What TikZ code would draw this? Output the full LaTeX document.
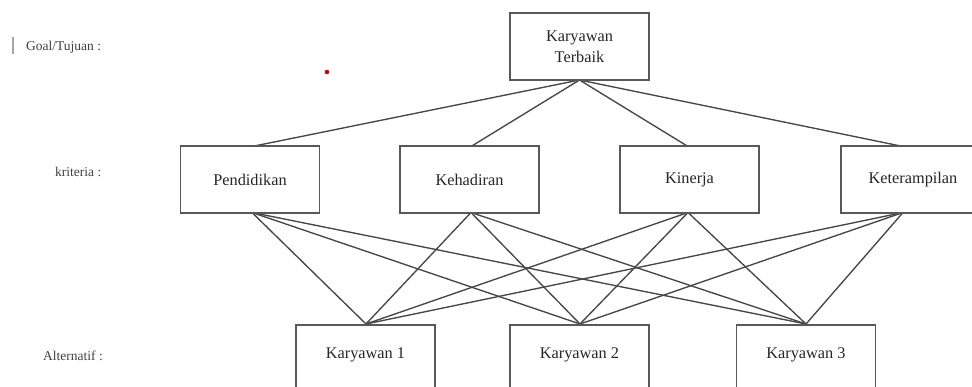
\documentclass[tikz,border=0pt]{standalone}
\usepackage{fontspec}
\setmainfont{Liberation Serif}
\begin{document}
\begin{tikzpicture}[x=1pt,y=-1pt,
  box/.style={draw=black!65, line width=1.6pt, fill=white, minimum width=139pt, minimum height=67pt, inner sep=0pt, font=\fontsize{16.3}{21}\selectfont, text=black!85, align=center},
  altbox/.style={draw=black!65, line width=1.6pt, fill=white, minimum width=139pt, anchor=north, inner xsep=0pt, inner ysep=0pt, text height=34pt, text depth=46pt, font=\fontsize{16.3}{21}\selectfont, text=black!85},
  lvl/.style={font=\fontsize{13.5}{16}\selectfont, text=black!75, anchor=west, inner sep=0pt},
  conn/.style={draw=black!72, line width=1.35pt}]
\useasboundingbox (0,0) rectangle (972,387);
\fill[white] (0,0) rectangle (972,387);
% level labels
\draw[black!35, line width=1.3pt] (13,37) -- (13,54);
\node[lvl] (lg) at (26,47) {Goal/Tujuan :};
\node[lvl] (lk) at (55,172) {kriteria :};
\node[lvl] (la) at (43,356) {Alternatif :};
\fill[red!85!black] (327,72) circle (2.3pt);
% connectors (drawn first, boxes on top)
\coordinate (gS) at (579.5,80);
\coordinate (p1) at (252,146.5);
\coordinate (p2) at (471,146.5);
\coordinate (p3) at (688,146.5);
\coordinate (p4) at (903,146.5);
\coordinate (q1) at (252,212.5);
\coordinate (q2) at (471,212.5);
\coordinate (q3) at (688,212.5);
\coordinate (q4) at (903,212.5);
\coordinate (a1) at (366,324);
\coordinate (a2) at (580,324);
\coordinate (a3) at (806,324);
\foreach \p in {p1,p2,p3,p4} \draw[conn] (gS) -- (\p);
\foreach \q in {q1,q2,q3,q4}
  \foreach \a in {a1,a2,a3}
    \draw[conn] (\q) -- (\a);
% boxes
\node[box] (goal) at (579.5,46.5) {Karyawan\\Terbaik};
\node[box] (k1) at (250,179.5) {Pendidikan};
\node[box] (k2) at (469.5,179.5) {Kehadiran};
\node[box] (k3) at (689.5,179.5) {Kinerja};
\node[box, minimum width=144pt] (k4) at (913,179.5) {Keterampilan};
\node[altbox] (alt1) at (365.5,324) {Karyawan 1};
\node[altbox] (alt2) at (579.5,324) {Karyawan 2};
\node[altbox] (alt3) at (806,324) {Karyawan 3};
\end{tikzpicture}
\end{document}
